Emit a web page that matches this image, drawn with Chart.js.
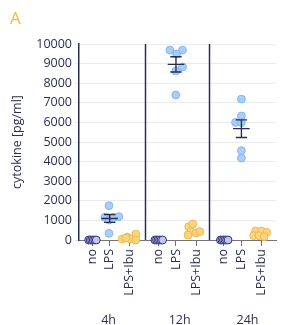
<!DOCTYPE html>
<html lang="en">
<head>
  <meta charset="UTF-8" />
  <title>Cytokine</title>
  <script src="https://cdn.jsdelivr.net/npm/chart.js"></script>
  <style>
    * { margin: 0; padding: 0; box-sizing: border-box; }
    body { background: #ffffff; }
    .wrap { width: 281px; height: 325px; position: relative; }
  </style>
</head>
<body>
<div class="wrap"><canvas id="chart"></canvas></div>

<script>
  // groups and conditions
  const groups = ['4h', '12h', '24h'];
  const conditions = ['no', 'LPS', 'LPS+Ibu'];
  const groupStart = [0, 3.03, 6.02];
  const condPos = [0.6, 1.4, 2.32];
  const dividers = [3.03, 5.93];
  const groupLabelPos = [1.35, 4.6, 7.7];

  // y axis ticks
  const yTicks = [0, 1000, 2000, 3000, 4000, 5000, 6000, 7000, 8000, 9000, 10000];

  // values per group (pg/ml) and small horizontal jitter (x units)
  const noValues = [
    [0, 0, 0, 0, 0, 0],
    [0, 0, 0, 0, 0, 0],
    [0, 0, 0, 0, 0, 0]
  ];
  const noJitter = [-0.16, -0.09, -0.02, 0.05, 0.12, 0.19];

  const lpsValues = [
    [1750, 1160, 1020, 1140, 1190, 340],
    [9690, 9490, 9690, 8830, 8620, 7400],
    [7190, 6330, 6000, 5990, 4560, 4180]
  ];
  const lpsJitter = [
    [-0.03, -0.22, -0.03, 0.18, 0.42, -0.03],
    [-0.28, 0.03, 0.3, 0.3, -0.01, -0.01],
    [0, 0, -0.27, 0, 0, 0]
  ];

  const ibuValues = [
    [50, 150, 50, 300, 0, 100],
    [680, 816, 425, 255, 357, 425],
    [460, 460, 390, 220, 220, 170]
  ];
  const ibuJitter = [
    [-0.35, -0.12, 0.06, 0.28, 0.28, -0.18],
    [-0.34, -0.15, -0.24, -0.37, -0.01, 0.17],
    [-0.27, 0, 0.24, -0.36, -0.12, 0.12]
  ];

  // mean and SEM of LPS
  const lpsMean = [1100, 8960, 5680];
  const lpsSem = [200, 390, 450];

  const navy = '#2b2d52';
  const font = "'Open Sans', sans-serif";

  function points(values, jitter, cond) {
    const out = [];
    values.forEach((arr, g) => {
      arr.forEach((v, i) => {
        const j = Array.isArray(jitter[0]) ? jitter[g][i] : jitter[i];
        out.push({ x: groupStart[g] + condPos[cond] + j, y: v });
      });
    });
    return out;
  }

  const tickValues = [];
  const tickLabels = {};
  groups.forEach((g, gi) => {
    conditions.forEach((c, ci) => {
      const v = +(groupStart[gi] + condPos[ci]).toFixed(3);
      tickValues.push(v);
      tickLabels[v] = c;
    });
  });

  const extras = {
    id: 'extras',
    beforeDatasetsDraw(chart) {
      const { ctx, chartArea, scales } = chart;
      ctx.save();
      ctx.strokeStyle = navy;
      ctx.lineWidth = 1.5;
      dividers.forEach(d => {
        const x = Math.round(scales.x.getPixelForValue(d)) + 0.5;
        ctx.beginPath();
        ctx.moveTo(x, chartArea.top);
        ctx.lineTo(x, chartArea.bottom);
        ctx.stroke();
      });
      ctx.restore();
    },
    afterDatasetsDraw(chart) {
      const { ctx, scales } = chart;
      ctx.save();
      ctx.strokeStyle = navy;
      ctx.lineWidth = 1.4;
      lpsMean.forEach((m, g) => {
        const c = groupStart[g] + condPos[1];
        const yM = scales.y.getPixelForValue(m);
        const yT = scales.y.getPixelForValue(m + lpsSem[g]);
        const yB = scales.y.getPixelForValue(m - lpsSem[g]);
        const xl = scales.x.getPixelForValue(c - 0.38);
        const xr = scales.x.getPixelForValue(c + 0.38);
        const cl = scales.x.getPixelForValue(c - 0.26);
        const cr = scales.x.getPixelForValue(c + 0.26);
        const xc = scales.x.getPixelForValue(c);
        ctx.beginPath();
        ctx.moveTo(xl, yM); ctx.lineTo(xr, yM);
        ctx.moveTo(cl, yT); ctx.lineTo(cr, yT);
        ctx.moveTo(cl, yB); ctx.lineTo(cr, yB);
        ctx.moveTo(xc, yT); ctx.lineTo(xc, yB);
        ctx.stroke();
      });
      ctx.restore();
    },
    afterDraw(chart) {
      const { ctx, scales } = chart;
      ctx.save();
      ctx.fillStyle = '#f5b73b';
      ctx.font = "17px " + font;
      ctx.textAlign = 'left';
      ctx.textBaseline = 'alphabetic';
      ctx.fillText('A', 10, 24);
      ctx.fillStyle = navy;
      ctx.font = "12.5px " + font;
      ctx.textAlign = 'center';
      ctx.textBaseline = 'middle';
      groups.forEach((g, i) => {
        ctx.fillText(g, scales.x.getPixelForValue(groupLabelPos[i]), 320);
      });
      ctx.restore();
    }
  };

  new Chart(document.getElementById('chart'), {
    type: 'scatter',
    data: {
      datasets: [
        {
          label: 'no',
          data: points(noValues, noJitter, 0),
          backgroundColor: '#c4c4ec',
          borderColor: '#34357a',
          borderWidth: 1,
          pointRadius: 3.9,
          clip: false
        },
        {
          label: 'LPS',
          data: points(lpsValues, lpsJitter, 1),
          backgroundColor: '#a9cff8',
          borderColor: '#7fb5f2',
          borderWidth: 1,
          pointRadius: 3.9,
          clip: false
        },
        {
          label: 'LPS+Ibu',
          data: points(ibuValues, ibuJitter, 2),
          backgroundColor: '#fbd480',
          borderColor: '#f1b84c',
          borderWidth: 1,
          pointRadius: 3.9,
          clip: false
        }
      ]
    },
    options: {
      responsive: true,
      maintainAspectRatio: false,
      animation: false,
      layout: { padding: { top: 44, left: 0, right: 0, bottom: 0 } },
      plugins: {
        legend: { display: false },
        tooltip: { enabled: false }
      },
      scales: {
        x: {
          type: 'linear',
          min: 0,
          max: 9,
          afterBuildTicks: s => { s.ticks = tickValues.map(v => ({ value: v })); },
          afterFit: s => { s.height = 85; },
          grid: { drawOnChartArea: false, drawTicks: true, tickLength: 6, color: '#6a6e88' },
          border: { display: true, color: '#77737a', width: 1 },
          ticks: {
            autoSkip: false,
            minRotation: 90,
            maxRotation: 90,
            padding: 3,
            color: navy,
            font: { family: font, size: 12.5 },
            callback: v => tickLabels[+(+v).toFixed(3)] || ''
          }
        },
        y: {
          min: 0,
          max: 10000,
          afterBuildTicks: s => { s.ticks = yTicks.map(v => ({ value: v })); },
          afterFit: s => { s.width = 79; },
          grid: { color: '#ebebeb', lineWidth: 1, tickLength: 4 },
          border: { display: true, color: navy, width: 1.5 },
          ticks: {
            padding: 3,
            color: navy,
            font: { family: font, size: 12.5 },
            callback: v => String(v)
          },
          title: {
            display: true,
            text: 'cytokine [pg/ml]',
            color: navy,
            font: { family: font, size: 12.5 },
            padding: { top: 10, bottom: 0 }
          }
        }
      }
    },
    plugins: [extras]
  });
</script>
</body>
</html>
